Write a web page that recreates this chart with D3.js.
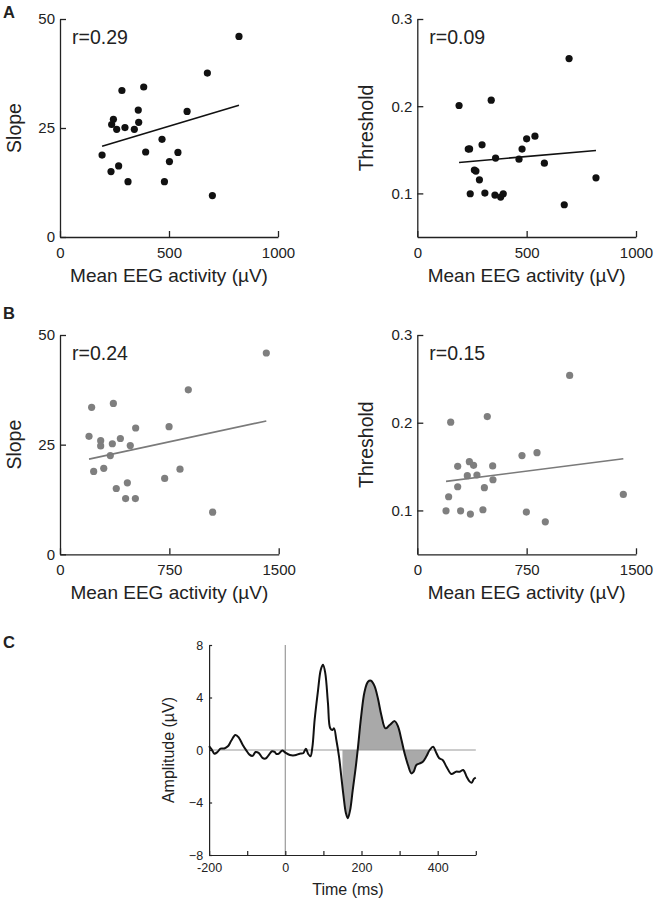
<!DOCTYPE html>
<html>
<head>
<meta charset="utf-8">
<script src="https://cdn.jsdelivr.net/npm/d3@7"></script>
<style>
  html, body { margin: 0; padding: 0; background: #fff; }
  svg { display: block; }
  text { font-family: "Liberation Sans", Arial, sans-serif; fill: #222; }
</style>
</head>
<body>
<svg id="chart" width="658" height="900"></svg>
<script>
// ---------------- DATA ----------------
// Panel A (EEG activity scale 0-1000)
const eegA_slope = [821, 676, 284, 384, 359, 583, 245, 237, 361, 260, 298, 341, 468, 193, 393, 541, 502, 269, 234, 312, 479, 699];
const slopeA     = [46.0, 37.6, 33.6, 34.4, 29.1, 28.8, 27.0, 25.8, 26.3, 24.7, 25.1, 24.7, 22.4, 18.8, 19.5, 19.4, 17.3, 16.3, 15.0, 12.7, 12.7, 9.5];
const eegA_thr   = [694, 191, 338, 233, 239, 296, 500, 538, 479, 358, 465, 581, 261, 268, 284, 817, 242, 309, 355, 381, 393, 672];
const thresholdA = [0.2546, 0.2008, 0.2069, 0.1508, 0.1510, 0.1557, 0.1626, 0.1656, 0.1508, 0.1405, 0.1393, 0.1347, 0.1267, 0.1256, 0.1156, 0.1179, 0.0996, 0.1004, 0.0981, 0.0958, 0.0996, 0.0870];
// Panel B (EEG activity scale 0-1500)
const eegB_slope = [1415, 880, 217, 366, 519, 748, 199, 279, 279, 359, 414, 482, 345, 231, 300, 823, 718, 462, 386, 450, 517, 1047];
const slopeB     = [45.9, 37.5, 33.5, 34.4, 28.8, 29.1, 26.9, 25.9, 24.7, 25.2, 26.4, 24.8, 22.5, 18.9, 19.6, 19.4, 17.3, 16.3, 15.0, 12.7, 12.7, 9.6];
const eegB_thr   = [1045, 229, 480, 718, 821, 277, 357, 386, 517, 343, 409, 519, 277, 460, 215, 1413, 197, 297, 364, 450, 748, 878];
const thresholdB = [0.2539, 0.2006, 0.2070, 0.1625, 0.1659, 0.1503, 0.1556, 0.1514, 0.1507, 0.1396, 0.1404, 0.1350, 0.1270, 0.1259, 0.1156, 0.1183, 0.0996, 0.0996, 0.0958, 0.1008, 0.0981, 0.0870];
// Regression line end points [x0, x1], [y0, y1]
const fitA_slope_x = [193, 821],  fitA_slope_y = [20.8, 30.2];
const fitA_thr_x   = [191, 817],  fitA_thr_y   = [0.1355, 0.1492];
const fitB_slope_x = [199, 1415], fitB_slope_y = [21.7, 30.4];
const fitB_thr_x   = [197, 1413], fitB_thr_y   = [0.1331, 0.1590];
const rLabels = ["r=0.29", "r=0.09", "r=0.24", "r=0.15"];
const ticksEegA = [0, 500, 1000];
const ticksEegB = [0, 750, 1500];
const ticksSlope = [0, 25, 50];
const ticksThr = [0.1, 0.2, 0.3];
// Panel C waveform
const timeMs = [-200,-193,-186,-178,-170,-160,-150,-142,-131,-122,-112,-102,-94,-86,-78,-70,-60,-52,-45,-35,-28,-23,-16,-8,0,12,25,38,47,54,60,66,71,77,86,93,99,105,112,118,124,128,134,141,147,153,159,164,170,177,184,190,199,208,217,225,234,243,252,263,274,287,296,305,313,322,331,337,344,353,361,370,379,388,395,404,413,423,436,448,458,467,476,484,489,495,500];
const amplitude = [0.3,0.03,-0.28,-0.15,0.1,0.12,0.3,0.7,1.15,0.95,0.4,-0.05,-0.35,-0.45,-0.15,-0.22,-0.6,-0.65,-0.45,-0.1,-0.15,-0.3,-0.25,-0.03,-0.2,-0.38,-0.4,-0.28,-0.25,0.1,-0.3,-0.48,0.2,2.3,4.57,6.1,6.5,5.84,3.55,1.65,1.52,1.65,0.76,-0.5,-2.03,-3.55,-4.8,-5.2,-4.6,-3.05,-1.52,0,2.54,4.44,5.2,5.28,4.88,3.94,2.67,1.65,1.9,2.2,1.78,0.76,-0.25,-1.14,-1.78,-1.65,-1.14,-1.02,-0.89,-0.5,0,0.25,-0.13,-0.63,-0.76,-1.27,-1.83,-1.65,-1.65,-1.52,-2.03,-2.41,-2.5,-2.2,-2.1];
const shadeWindow = [150, 378];
const ticksTime = [-200, -100, 0, 100, 200, 300, 400, 500];
const labelTime = [-200, 0, 200, 400];
const ticksAmp = [-8, -4, 0, 4, 8];

// ---------------- DRAW ----------------
const svg = d3.select("#chart");

function scatter(cfg) {
  const x = d3.scaleLinear().domain(cfg.xDomain).range(cfg.xRange);
  const y = d3.scaleLinear().domain(cfg.yDomain).range(cfg.yRange);
  const g = svg.append("g");
  const xa = g.append("g").attr("transform", `translate(0,${cfg.yRange[0]})`)
    .call(d3.axisBottom(x).tickValues(cfg.xTicks).tickSize(-6).tickSizeOuter(0).tickPadding(10).tickFormat(d3.format("d")));
  const ya = g.append("g").attr("transform", `translate(${cfg.xRange[0]},0)`)
    .call(d3.axisLeft(y).tickValues(cfg.yTicks).tickSize(-6).tickSizeOuter(0).tickPadding(5).tickFormat(cfg.yFormat));
  [xa, ya].forEach(a => {
    a.selectAll("path,line").attr("stroke", "#222").attr("stroke-width", 1.3);
    a.selectAll("text").attr("font-size", 15).attr("fill", "#222").attr("font-family", "Liberation Sans, Arial, sans-serif");
  });
  g.selectAll("circle.pt").data(cfg.xs).enter().append("circle")
    .attr("cx", (d) => x(d)).attr("cy", (d, i) => y(cfg.ys[i])).attr("r", 3.6)
    .attr("fill", cfg.color);
  g.append("line")
    .attr("x1", x(cfg.fitX[0])).attr("x2", x(cfg.fitX[1]))
    .attr("y1", y(cfg.fitY[0])).attr("y2", y(cfg.fitY[1]))
    .attr("stroke", cfg.lineColor).attr("stroke-width", 1.6);
  g.append("text").attr("x", cfg.xRange[0] + 12).attr("y", cfg.yRange[1] + 24.5)
    .attr("font-family", "Open Sans, sans-serif").attr("font-size", 19.5).attr("fill", "#111")
    .text(cfg.r);
  g.append("text").attr("x", (cfg.xRange[0] + cfg.xRange[1]) / 2).attr("y", cfg.yRange[0] + 45)
    .attr("text-anchor", "middle").attr("font-size", 19).text("Mean EEG activity (µV)");
  const cy = (cfg.yRange[0] + cfg.yRange[1]) / 2;
  g.append("text").attr("transform", `translate(${cfg.yTitleX},${cy}) rotate(-90)`)
    .attr("text-anchor", "middle").attr("font-size", 19.5).text(cfg.yTitle);
}

const slopeFmt = d3.format("d");
const thrFmt = d3.format(".1f");

scatter({ xDomain: [0, 1000], xRange: [60, 278], yDomain: [0, 50], yRange: [237, 19],
  xTicks: ticksEegA, yTicks: ticksSlope, yFormat: slopeFmt, xs: eegA_slope, ys: slopeA,
  color: "#111", lineColor: "#111", fitX: fitA_slope_x, fitY: fitA_slope_y, r: rLabels[0],
  yTitle: "Slope", yTitleX: 20.5 });
scatter({ xDomain: [0, 1000], xRange: [417.3, 636], yDomain: [0.05, 0.3], yRange: [237, 19],
  xTicks: ticksEegA, yTicks: ticksThr, yFormat: thrFmt, xs: eegA_thr, ys: thresholdA,
  color: "#111", lineColor: "#111", fitX: fitA_thr_x, fitY: fitA_thr_y, r: rLabels[1],
  yTitle: "Threshold", yTitleX: 373 });
scatter({ xDomain: [0, 1500], xRange: [60, 278.7], yDomain: [0, 50], yRange: [554.3, 335],
  xTicks: ticksEegB, yTicks: ticksSlope, yFormat: slopeFmt, xs: eegB_slope, ys: slopeB,
  color: "#7f7f7f", lineColor: "#7a7a7a", fitX: fitB_slope_x, fitY: fitB_slope_y, r: rLabels[2],
  yTitle: "Slope", yTitleX: 20.5 });
scatter({ xDomain: [0, 1500], xRange: [417.3, 636], yDomain: [0.05, 0.3], yRange: [554.3, 335],
  xTicks: ticksEegB, yTicks: ticksThr, yFormat: thrFmt, xs: eegB_thr, ys: thresholdB,
  color: "#7f7f7f", lineColor: "#7a7a7a", fitX: fitB_thr_x, fitY: fitB_thr_y, r: rLabels[3],
  yTitle: "Threshold", yTitleX: 373 });

// Panel letters
[["A", 18], ["B", 319], ["C", 648]].forEach(([t, yy]) => {
  svg.append("text").attr("x", 3).attr("y", yy).attr("font-size", 16.5).attr("font-weight", "bold")
    .attr("fill", "#111").text(t);
});

// ---------------- Panel C ----------------
const xc = d3.scaleLinear().domain([-200, 500]).range([209.1, 475.8]);
const yc = d3.scaleLinear().domain([-8, 8]).range([855, 645]);
const gc = svg.append("g");
const wave = timeMs.map((t, i) => ({ t, a: amplitude[i] }));

gc.append("clipPath").attr("id", "shadeClip").append("rect")
  .attr("x", xc(shadeWindow[0])).attr("width", xc(shadeWindow[1]) - xc(shadeWindow[0]))
  .attr("y", yc(8)).attr("height", yc(-8) - yc(8));
gc.append("path").datum(wave)
  .attr("clip-path", "url(#shadeClip)")
  .attr("fill", "#a9a9a9")
  .attr("d", d3.area().x(d => xc(d.t)).y0(yc(0)).y1(d => yc(d.a)).curve(d3.curveCatmullRom.alpha(0.5)));

// reference lines
gc.append("line").attr("x1", xc(-200)).attr("x2", xc(500)).attr("y1", yc(0)).attr("y2", yc(0))
  .attr("stroke", "#9a9a9a").attr("stroke-width", 1.2);
gc.append("line").attr("x1", xc(0)).attr("x2", xc(0)).attr("y1", yc(8)).attr("y2", yc(-8))
  .attr("stroke", "#9a9a9a").attr("stroke-width", 1.2);

const xca = gc.append("g").attr("transform", `translate(0,${yc(-8)})`)
  .call(d3.axisBottom(xc).tickValues(ticksTime).tickSize(-4).tickSizeOuter(0).tickPadding(8)
    .tickFormat(d => labelTime.includes(d) ? d : ""));
const yca = gc.append("g").attr("transform", `translate(${xc(-200)},0)`)
  .call(d3.axisLeft(yc).tickValues(ticksAmp).tickSize(-3).tickSizeOuter(0).tickPadding(6));
[xca, yca].forEach(a => {
  a.selectAll("path,line").attr("stroke", "#222").attr("stroke-width", 1.2);
  a.selectAll("text").attr("font-size", 12.5).attr("fill", "#222").attr("font-family", "Liberation Sans, Arial, sans-serif");
});

gc.append("path").datum(wave)
  .attr("fill", "none").attr("stroke", "#111").attr("stroke-width", 2)
  .attr("stroke-linejoin", "round")
  .attr("d", d3.line().x(d => xc(d.t)).y(d => yc(d.a)).curve(d3.curveCatmullRom.alpha(0.5)));

gc.append("text").attr("x", 348).attr("y", 895).attr("text-anchor", "middle").attr("font-size", 16).text("Time (ms)");
gc.append("text").attr("transform", `translate(174,750) rotate(-90)`).attr("text-anchor", "middle")
  .attr("font-size", 16).text("Amplitude (µV)");
</script>
</body>
</html>
